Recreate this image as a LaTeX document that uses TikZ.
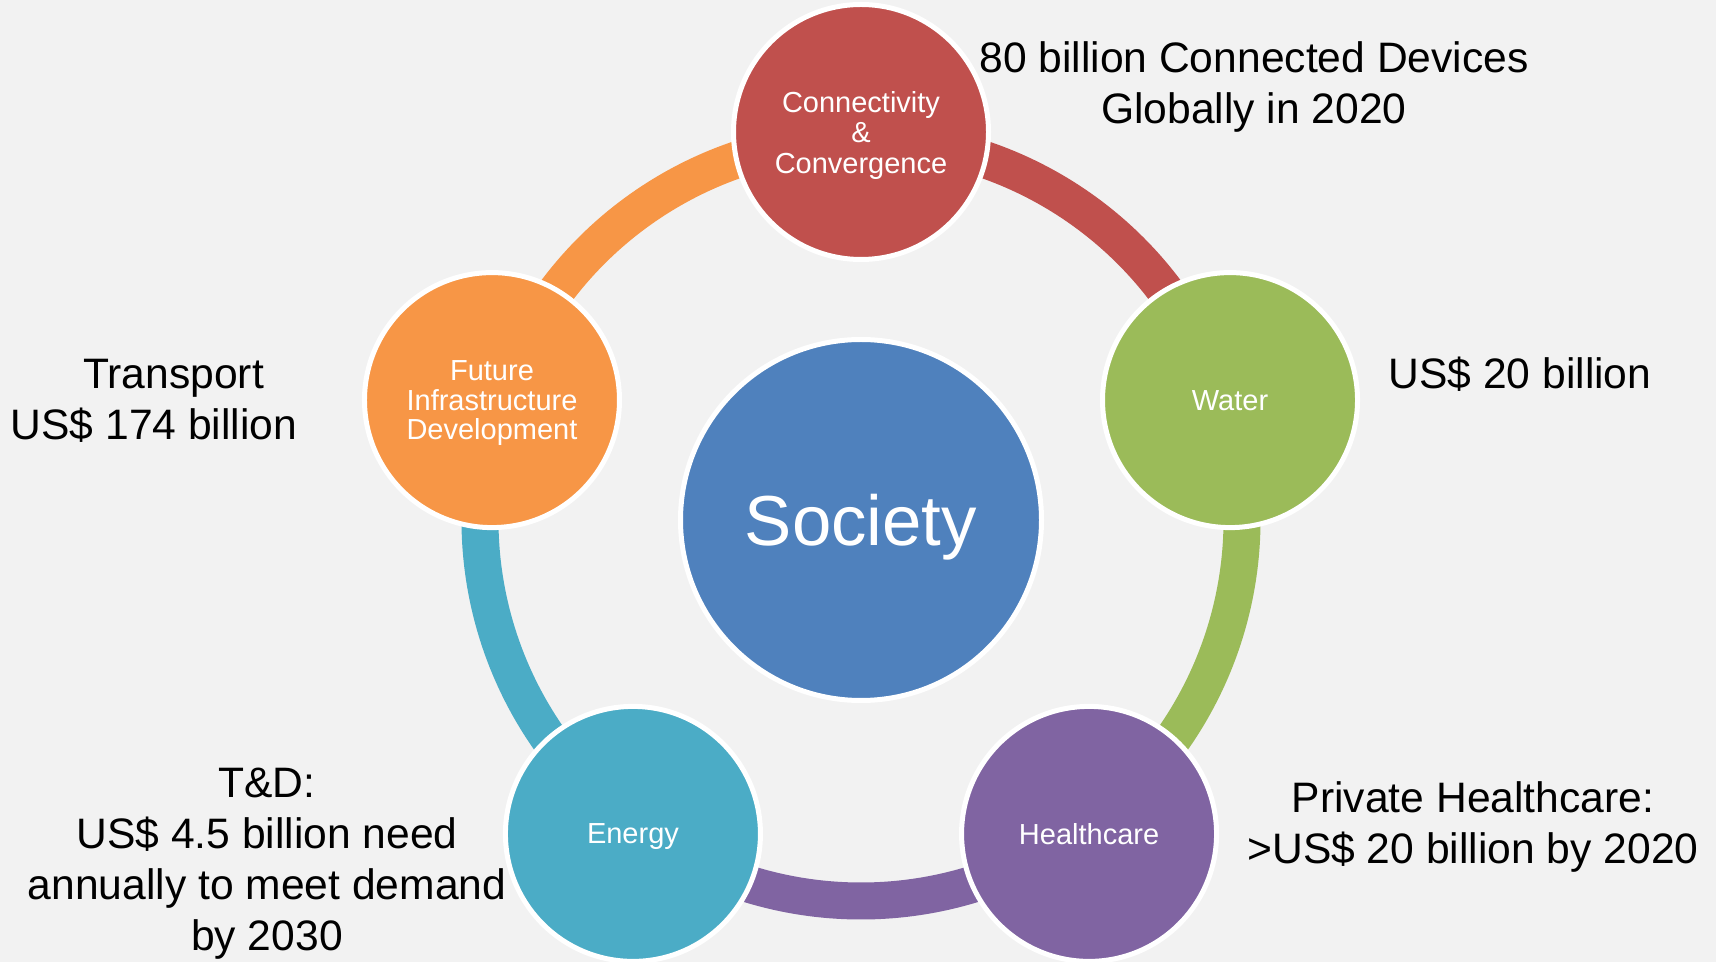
\documentclass[tikz,border=0pt]{standalone}
\usepackage{fontspec}
\setmainfont{Liberation Sans}
\usetikzlibrary{calc}
\definecolor{bg}{HTML}{F2F2F2}
\definecolor{cred}{HTML}{C0504D}
\definecolor{cgreen}{HTML}{9BBB59}
\definecolor{cpurple}{HTML}{8064A2}
\definecolor{ccyan}{HTML}{4BACC6}
\definecolor{corange}{HTML}{F79646}
\definecolor{cblue}{HTML}{4F81BD}
\pgfdeclarelayer{bottom}
\pgfdeclarelayer{background}
\pgfsetlayers{bottom,background,main}
\begin{document}
\begin{tikzpicture}[x=1pt,y=1pt,
  bub/.style={circle, draw=white, line width=5pt, minimum size=255pt, inner sep=0pt,
    text=white, align=center, text depth=0pt, font=\fontsize{29}{30.5}\selectfont},
  band/.style={line width=37pt},
  note/.style={align=center, inner sep=0pt, text=black, text depth=0pt, font=\fontsize{42.6}{51}\selectfont}]
\begin{pgfonlayer}{bottom}
\fill[bg] (0,0) rectangle (1716,962);
\end{pgfonlayer}
\useasboundingbox (0,0) rectangle (1716,962);
\coordinate (c) at (861,442);
\node[bub, fill=cblue, minimum size=361pt, font=\fontsize{70.8}{80}\selectfont] (soc) at (c) {Society};
\node[bub, fill=cred] (conn) at ($(c)+(90:388)$) {Connectivity\\\&\\Convergence};
\node[bub, fill=cgreen] (water) at ($(c)+(18:388)$) {Water};
\node[bub, fill=cpurple] (health) at ($(c)+(-54:388)$) {Healthcare};
\node[bub, fill=ccyan] (energy) at ($(c)+(-126:388)$) {Energy};
\node[bub, fill=corange, font=\fontsize{29}{29.5}\selectfont] (future) at ($(c)+(162:388)$) {Future\\Infrastructure\\Development};
\begin{pgfonlayer}{background}
\draw[band, cred] ($(c)!381pt!(conn.center)$) arc[start angle=90, end angle=18, radius=381pt];
\draw[band, cgreen] ($(c)!381pt!(water.center)$) arc[start angle=18, end angle=-54, radius=381pt];
\draw[band, cpurple] ($(c)!381pt!(health.center)$) arc[start angle=-54, end angle=-126, radius=381pt];
\draw[band, ccyan] ($(c)!381pt!(energy.center)$) arc[start angle=-126, end angle=-198, radius=381pt];
\draw[band, corange] ($(c)!381pt!(future.center)$) arc[start angle=162, end angle=90, radius=381pt];
\end{pgfonlayer}
\node[note] (t1) at (1254,879) {80 billion Connected Devices\\Globally in 2020};
\node[note] (t2) at (1520,589) {US\$ 20 billion};
\node[note] (t3) at (154,563) {\hspace*{39pt}Transport\\US\$ 174 billion};
\node[note] (t4) at (267,103) {T\&D:\\US\$ 4.5 billion need\\annually to meet demand\\by 2030};
\node[note] (t5) at (1473,139) {Private Healthcare:\\>US\$ 20 billion by 2020};
\end{tikzpicture}
\end{document}
